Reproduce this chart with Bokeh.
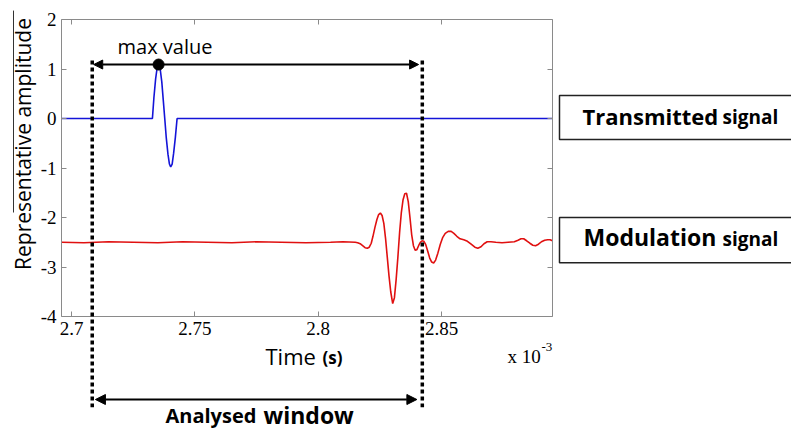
import math
from bokeh.plotting import figure
from bokeh.models import Range1d, LinearAxis, FixedTicker, Arrow, NormalHead, Label, BoxAnnotation
from bokeh.embed import file_html
from bokeh.resources import INLINE

# ---------------- data (time in units of 1e-3 s) ----------------
blue_t = [2.69595, 2.7328, 2.7334, 2.7341, 2.7347, 2.7353, 2.7359, 2.7366, 2.7372,
          2.7378, 2.7384, 2.7391, 2.7397, 2.7402, 2.7408, 2.7414, 2.7421, 2.7428,
          2.7430, 2.89497]
blue_v = [0.0, 0.0, 0.42, 0.80, 1.02, 1.09, 1.02, 0.74, 0.37,
          0.0, -0.38, -0.72, -0.92, -0.98, -0.92, -0.70, -0.38, 0.0,
          0.0, 0.0]

red_t = [2.69595, 2.705, 2.715, 2.725, 2.735, 2.745, 2.755, 2.765, 2.775, 2.785,
         2.795, 2.805, 2.8100, 2.8150,
         2.8160, 2.8170, 2.8180, 2.8190, 2.8199, 2.8207, 2.8215, 2.8222, 2.8230,
         2.8238, 2.8245, 2.8252, 2.8259, 2.8266, 2.8273, 2.8280, 2.8287, 2.8294,
         2.8302, 2.8309, 2.8316, 2.8323, 2.8330, 2.8337, 2.8344, 2.8351, 2.8358,
         2.8365, 2.8372, 2.8379, 2.8386, 2.8393, 2.8400, 2.8407, 2.8414, 2.8421,
         2.8428, 2.8436, 2.8444, 2.8452, 2.8460, 2.8468, 2.8476, 2.8485, 2.8495,
         2.8505, 2.8515, 2.8527, 2.8539, 2.8550, 2.8562, 2.8575, 2.8590, 2.8605,
         2.8620, 2.8635, 2.8647, 2.8660, 2.8672, 2.8685, 2.8700, 2.8720, 2.8745,
         2.8770, 2.8795, 2.8810, 2.8822, 2.8833, 2.8845, 2.8858, 2.8870, 2.8881,
         2.8893, 2.8905, 2.8918, 2.8930, 2.8940, 2.89497]
red_v = [-2.50, -2.51, -2.49, -2.50, -2.51, -2.49, -2.50, -2.51, -2.49, -2.50,
         -2.51, -2.50, -2.49, -2.50,
         -2.51, -2.53, -2.57, -2.61, -2.62, -2.60, -2.52, -2.38, -2.20,
         -2.04, -1.94, -1.91, -1.96, -2.12, -2.42, -2.80, -3.18, -3.50,
         -3.74, -3.62, -3.25, -2.80, -2.30, -1.90, -1.64, -1.52, -1.51,
         -1.68, -2.00, -2.35, -2.57, -2.66, -2.65, -2.57, -2.50, -2.47,
         -2.48, -2.55, -2.68, -2.82, -2.90, -2.92, -2.86, -2.72, -2.54,
         -2.40, -2.32, -2.28, -2.28, -2.32, -2.38, -2.43, -2.45, -2.48,
         -2.54, -2.60, -2.62, -2.59, -2.53, -2.49, -2.49, -2.50, -2.51,
         -2.50, -2.49, -2.46, -2.43, -2.43, -2.47, -2.52, -2.56, -2.57,
         -2.54, -2.49, -2.46, -2.45, -2.45, -2.47]

x_ticks = [2.7, 2.75, 2.8, 2.85]
x_tick_labels = ["2.7", "2.75", "2.8", "2.85"]
y_ticks = [-4, -3, -2, -1, 0, 1, 2]
y_tick_labels = ["-4", "-3", "-2", "-1", "0", "1", "2"]

peak_t = [2.7353]
peak_v = [1.09]

x_min, x_max = 2.69595, 2.89497
y_min, y_max = -4, 2
window_start = 2.7084
window_end = 2.8422

# ---------------- figure: frame covers the whole canvas ----------------
p = figure(width=791, height=430, output_backend="svg", toolbar_location=None, title=None,
           x_range=Range1d(2.671220, 2.991852), y_range=Range1d(-6.30303, 2.38384),
           min_border_left=0, min_border_right=0, min_border_top=0, min_border_bottom=0)
p.background_fill_color = "white"
p.border_fill_color = "white"
p.xgrid.visible = False
p.ygrid.visible = False
p.outline_line_color = None

AX = "#8a8a8a"
def style_axis(ax, ticks, labels, loc, bounds):
    ax.ticker = FixedTicker(ticks=ticks)
    ax.fixed_location = loc
    ax.bounds = bounds
    ax.axis_line_color = AX
    ax.major_tick_line_color = AX
    ax.minor_tick_line_color = None
    ax.major_tick_in = 5
    ax.major_tick_out = 0
    ax.major_label_text_font = "Liberation Serif"
    ax.major_label_text_font_size = "19px"
    ax.major_label_text_color = "black"
    ax.major_label_standoff = 5
    ax.major_label_overrides = dict(zip(ticks, labels))

style_axis(p.xaxis[0], x_ticks, x_tick_labels, y_min, (x_min, x_max))
style_axis(p.yaxis[0], y_ticks, y_tick_labels, x_min, (y_min, y_max))

top = LinearAxis()
style_axis(top, x_ticks, [""] * len(x_ticks), y_max, (x_min, x_max))
p.add_layout(top, "above")
right = LinearAxis()
style_axis(right, y_ticks, [""] * len(y_ticks), x_max, (y_min, y_max))
p.add_layout(right, "right")

# signals
p.line(red_t, red_v, line_color="#e01010", line_width=1.6)
p.line(blue_t, blue_v, line_color="#1414d8", line_width=1.6)

# analysed window dotted lines
for wx in (window_start, window_end):
    p.add_layout(Arrow(end=None, x_start=wx, y_start=1.172, x_end=wx, y_end=-5.832,
                       line_color="black", line_width=3.5, line_dash="4 3"))

# max value arrow
p.add_layout(Arrow(start=NormalHead(size=9, fill_color="black", line_color="black"),
                   end=NormalHead(size=9, fill_color="black", line_color="black"),
                   x_start=2.7090, y_start=1.09, x_end=2.8407, y_end=1.09,
                   line_color="black", line_width=2))
p.scatter(peak_t, peak_v, size=11, color="black")

# analysed window arrow
p.add_layout(Arrow(start=NormalHead(size=10, fill_color="black", line_color="black"),
                   end=NormalHead(size=10, fill_color="black", line_color="black"),
                   x_start=2.7097, y_start=-5.677, x_end=2.8400, y_end=-5.677,
                   line_color="black", line_width=2))

# stray vertical line near the y label
p.add_layout(Arrow(end=None, x_start=2.67649, y_start=2.18, x_end=2.67649, y_end=-1.899,
                   line_color="#333333", line_width=1))

def lab(x, y, text, font, size, style="normal", align="left", baseline="alphabetic", angle=0):
    p.add_layout(Label(x=x, y=y, text=text, text_font=font, text_font_size=size,
                       text_font_style=style, text_align=align, text_baseline=baseline,
                       angle=angle, text_color="black"))

lab(2.68014, -0.5152, "Representative amplitude", "Open Sans", "21px",
    align="center", baseline="middle", angle=math.pi / 2)
lab(2.71865, 1.4545, "max value", "Open Sans", "20px")
lab(2.77864, -4.798, "Time", "Open Sans", "22px")
lab(2.80174, -4.838, "(s)", "Open Sans", "17px", "bold")
lab(2.87673, -4.798, "x 10", "Liberation Serif", "19px")
lab(2.89051, -4.626, "-3", "Liberation Serif", "13px")
lab(2.7381, -6.000, "Analysed", "Open Sans", "20px", "bold")
lab(2.77783, -5.980, "window", "Open Sans", "23px", "bold")

# right boxes
for top_y, bot_y in ((0.4646, -0.4242), (-2.0, -2.915)):
    p.add_layout(BoxAnnotation(left=2.89781, right=2.99550, top=top_y, bottom=bot_y,
                               fill_color=None, line_color="#222222", line_width=1.5,
                               line_alpha=1.0))
lab(2.90713, 0.0505, "Transmitted", "Open Sans", "22px", "bold")
lab(2.96389, 0.0303, "signal", "Open Sans", "19px", "bold")
lab(2.90754, -2.400, "Modulation", "Open Sans", "23px", "bold")
lab(2.96389, -2.428, "signal", "Open Sans", "19px", "bold")

open("out.html", "w").write(file_html(p, INLINE))
